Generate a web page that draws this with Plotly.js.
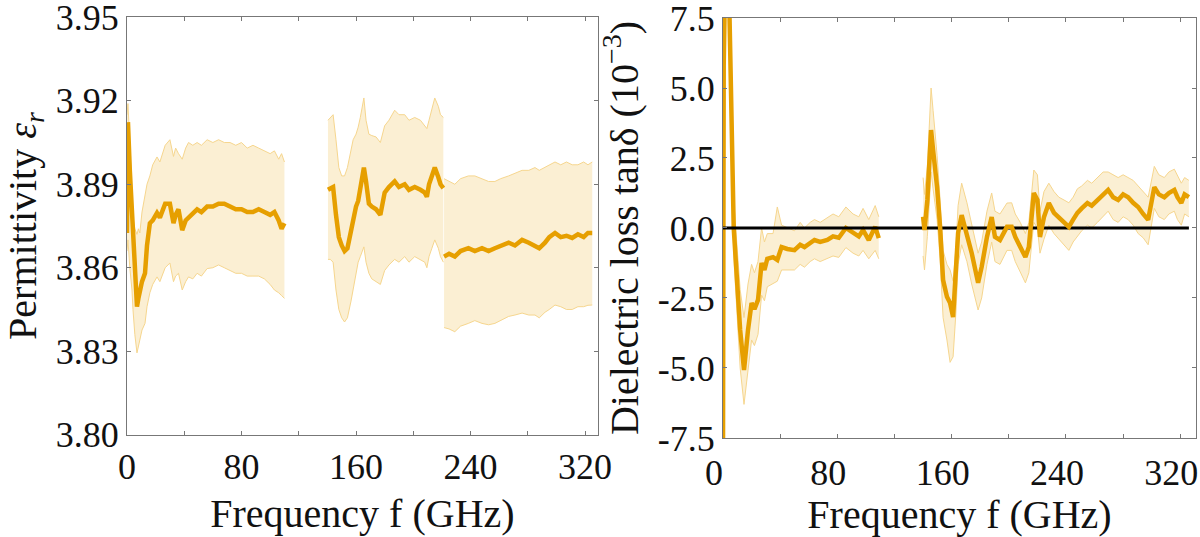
<!DOCTYPE html>
<html>
<head>
<meta charset="utf-8">
<script src="https://cdn.plot.ly/plotly-3.0.1.min.js"></script>
<style>html,body{margin:0;padding:0;background:#fff;}#chart{width:1200px;height:537px;}</style>
</head>
<body>
<div id="chart"></div>
<script>
// ---------- Permittivity (left panel) ----------
const epsX1 = [0, 0.7, 2, 3.5, 4.2, 5.5, 7, 8, 9, 10.5, 12.6, 14, 16, 18, 21, 23, 26.7, 30, 32.5, 34, 36, 38.6, 41, 43, 46, 49, 52, 56, 60, 64, 68, 72, 76, 80, 84, 88, 92, 96, 100, 103, 106, 108, 110];
const epsMean1 = [3.8725, 3.9123, 3.895, 3.882, 3.8725, 3.858, 3.846, 3.849, 3.852, 3.855, 3.858, 3.868, 3.876, 3.877, 3.8797, 3.878, 3.883, 3.883, 3.876, 3.879, 3.881, 3.8735, 3.877, 3.878, 3.880, 3.881, 3.880, 3.882, 3.882, 3.883, 3.883, 3.882, 3.881, 3.881, 3.880, 3.880, 3.881, 3.880, 3.879, 3.880, 3.877, 3.874, 3.876];
const epsUp1 = [3.915, 3.919, 3.905, 3.884, 3.878, 3.874, 3.872, 3.874, 3.8725, 3.880, 3.886, 3.890, 3.893, 3.897, 3.8998, 3.898, 3.904, 3.906, 3.900, 3.903, 3.901, 3.899, 3.903, 3.905, 3.904, 3.905, 3.904, 3.906, 3.905, 3.906, 3.905, 3.905, 3.904, 3.905, 3.903, 3.904, 3.903, 3.902, 3.901, 3.902, 3.899, 3.901, 3.898];
const epsLo1 = [3.866, 3.870, 3.860, 3.852, 3.845, 3.836, 3.8294, 3.832, 3.834, 3.8376, 3.840, 3.846, 3.851, 3.854, 3.8567, 3.855, 3.860, 3.8617, 3.855, 3.857, 3.858, 3.852, 3.855, 3.8567, 3.856, 3.858, 3.857, 3.8597, 3.860, 3.861, 3.860, 3.859, 3.858, 3.858, 3.857, 3.857, 3.857, 3.856, 3.854, 3.852, 3.851, 3.850, 3.849];

const epsX2 = [140.4, 142, 144, 146, 148, 150, 152, 154, 156.5, 158, 160, 161.5, 163, 165.5, 167, 169, 171, 174, 177, 180, 183, 187, 190, 194, 197, 201, 205, 208, 209.5, 211, 213, 215, 217.5, 219, 221];
const epsMean2 = [3.888, 3.8885, 3.889, 3.879, 3.871, 3.868, 3.866, 3.867, 3.873, 3.878, 3.882, 3.884, 3.889, 3.896, 3.891, 3.883, 3.882, 3.881, 3.879, 3.887, 3.889, 3.891, 3.889, 3.890, 3.888, 3.889, 3.888, 3.887, 3.8855, 3.890, 3.893, 3.896, 3.8925, 3.890, 3.8886];
const epsUp2 = [3.913, 3.914, 3.915, 3.906, 3.896, 3.893, 3.893, 3.896, 3.903, 3.906, 3.908, 3.9105, 3.914, 3.921, 3.913, 3.908, 3.9075, 3.907, 3.905, 3.911, 3.913, 3.9166, 3.915, 3.915, 3.913, 3.914, 3.913, 3.911, 3.910, 3.913, 3.917, 3.921, 3.918, 3.915, 3.914];
const epsLo2 = [3.863, 3.863, 3.862, 3.852, 3.845, 3.842, 3.8405, 3.842, 3.848, 3.852, 3.858, 3.862, 3.864, 3.8675, 3.862, 3.858, 3.856, 3.855, 3.854, 3.859, 3.861, 3.863, 3.862, 3.864, 3.862, 3.864, 3.863, 3.862, 3.860, 3.864, 3.867, 3.870, 3.867, 3.864, 3.862];

const epsX3 = [221.5, 225, 229, 233, 238.5, 243, 248, 252.6, 257, 261, 266.6, 271, 276, 280.7, 285, 288, 292, 295, 299, 303, 307, 311, 315, 319, 322, 325];
const epsMean3 = [3.864, 3.865, 3.864, 3.866, 3.867, 3.866, 3.867, 3.866, 3.867, 3.868, 3.869, 3.868, 3.870, 3.869, 3.868, 3.867, 3.869, 3.871, 3.8725, 3.871, 3.8715, 3.8707, 3.872, 3.871, 3.8725, 3.8725];
const epsUp3 = [3.892, 3.891, 3.890, 3.892, 3.893, 3.893, 3.892, 3.891, 3.891, 3.892, 3.893, 3.894, 3.895, 3.895, 3.896, 3.895, 3.896, 3.897, 3.898, 3.897, 3.898, 3.897, 3.897, 3.898, 3.897, 3.898];
const epsLo3 = [3.8385, 3.838, 3.837, 3.839, 3.840, 3.841, 3.840, 3.8395, 3.840, 3.841, 3.8425, 3.843, 3.8437, 3.843, 3.843, 3.842, 3.844, 3.845, 3.8466, 3.846, 3.845, 3.845, 3.846, 3.846, 3.8465, 3.8466];

// ---------- Dielectric loss (right panel), units of 1e-3 ----------
const tanX1 = [0, 0.5, 1.5, 4, 7.5, 10, 12, 14.7, 16, 17.5, 20, 22, 24.5, 27, 29, 31, 35, 38, 41, 45, 50, 54, 57, 61, 64, 68, 73, 77, 81, 86, 91, 95, 98, 102, 106.5, 109];
const tanMean1 = [-8, 5.8, 9, 9, 0, -2, -3.64, -5.07, -4.2, -3.64, -2.68, -2.9, -2.57, -1.25, -1.5, -1.1, -1.04, -1.14, -0.68, -0.75, -0.79, -0.6, -0.68, -0.55, -0.43, -0.5, -0.43, -0.3, -0.35, 0.0, -0.18, -0.3, -0.07, -0.43, 0.04, -0.36];
const tanUp1 = [-7, 6.6, 10, 10, 1.0, -0.6, -2.2, -3.2, -2.6, -2.0, -1.3, -1.6, -1.2, 0.0, -0.5, -0.2, -0.2, 0.75, 0.1, 0.0, -0.1, 0.2, 0.0, 0.2, 0.3, 0.2, 0.35, 0.5, 0.4, 0.75, 0.5, 0.4, 0.7, 0.3, 0.8, 0.4];
const tanLo1 = [-9, 5.0, 8, 8, -1.0, -3.4, -5.0, -6.3, -5.7, -5.1, -4.0, -4.2, -3.8, -2.4, -2.6, -2.1, -2.0, -1.9, -1.5, -1.5, -1.5, -1.3, -1.4, -1.2, -1.1, -1.2, -1.1, -1.0, -1.05, -0.7, -0.9, -1.0, -0.8, -1.1, -0.8, -1.1];

const tanX2 = [140, 141, 143, 145.6, 147, 149.8, 151.9, 154, 156.7, 158.9, 161, 163, 164.5, 167, 170.7, 174, 178.5, 181, 184.7, 188, 190.3, 193.8, 198.7, 202, 204.5, 208, 211.6, 214, 217.5, 220, 221.8, 224.6, 228, 231.6, 235, 238.6, 242, 245, 248, 251, 255, 258, 262, 266, 269.5, 273, 276.5, 280, 283.5, 287, 290.5, 294, 297.5, 301.8, 305, 308.8, 312, 315.8, 318, 320.7, 323, 326];
const tanMean2 = [0.4, -0.07, 1.0, 3.5, 2.79, 1.46, 0.04, -1.86, -2.46, -2.68, -3.18, -1.75, -0.18, 0.46, -0.18, -0.89, -1.96, -1.39, -0.32, 0.39, -0.32, -0.43, 0.04, 0.04, -0.32, -0.68, -1.04, -0.68, 1.25, 1.0, -0.32, 0.39, 0.89, 0.54, 0.39, 0.18, 0.04, 0.3, 0.54, 0.7, 0.89, 0.8, 1.0, 1.2, 1.36, 1.1, 1.0, 1.2, 1.1, 0.9, 0.75, 0.5, 0.29, 1.46, 1.2, 1.1, 1.25, 1.36, 1.1, 0.89, 1.2, 1.1];
const tanUp2 = [1.8, 1.2, 2.2, 5.0, 4.2, 2.6, 1.0, -0.8, -1.3, -1.5, -1.9, -0.7, 0.8, 1.6, 0.9, 0.1, -0.9, -0.5, 0.6, 1.25, 0.6, 0.5, 0.89, 0.9, 0.5, 0.2, -0.2, 0.2, 2.07, 1.9, 0.6, 1.3, 1.6, 1.3, 1.1, 1.0, 0.9, 1.1, 1.4, 1.5, 1.7, 1.6, 1.8, 2.0, 2.0, 1.9, 1.8, 1.9, 1.8, 1.7, 1.5, 1.3, 1.1, 2.2, 1.9, 1.8, 2.0, 2.1, 1.9, 1.6, 1.8, 1.7];
const tanLo2 = [-1.0, -1.5, -0.3, 2.0, 1.4, 0.3, -1.1, -3.2, -4.0, -4.8, -4.6, -3.0, -1.3, -0.6, -1.2, -2.0, -2.93, -2.5, -1.3, -0.5, -1.2, -1.3, -0.8, -0.8, -1.2, -1.6, -1.96, -1.6, 0.2, 0.0, -0.9, -0.4, 0.1, -0.2, -0.4, -0.6, -0.8, -0.5, -0.3, -0.1, 0.1, 0.0, 0.2, 0.4, 0.6, 0.3, 0.2, 0.4, 0.3, 0.1, -0.2, -0.35, -0.6, 0.7, 0.4, 0.3, 0.5, 0.6, 0.3, 0.1, 0.5, 0.4];

const zeroX = [0, 326];
const zeroY = [0, 0];

const xTickVals = [0, 80, 160, 240, 320];
const xTickText = ['0', '80', '160', '240', '320'];
const epsTickVals = [3.80, 3.83, 3.86, 3.89, 3.92, 3.95];
const epsTickText = ['3.80', '3.83', '3.86', '3.89', '3.92', '3.95'];
const tanTickVals = [-7.5, -5, -2.5, 0, 2.5, 5, 7.5];
const tanTickText = ['-7.5', '-5.0', '-2.5', '0.0', '2.5', '5.0', '7.5'];

// ---------- styling ----------
const MEAN = '#E69F00';
const EDGE = '#F6D68E';
const FILL = 'rgba(251,237,206,0.9)';
const FONT = "'Liberation Serif', 'Times New Roman', serif";

function band(x, lo, up, xa, ya) {
  return [
    {x: x, y: lo, xaxis: xa, yaxis: ya, mode: 'lines', line: {color: EDGE, width: 1}, hoverinfo: 'skip', showlegend: false},
    {x: x, y: up, xaxis: xa, yaxis: ya, mode: 'lines', line: {color: EDGE, width: 1}, fill: 'tonexty', fillcolor: FILL, hoverinfo: 'skip', showlegend: false}
  ];
}
function meanLine(x, y, xa, ya) {
  return {x: x, y: y, xaxis: xa, yaxis: ya, mode: 'lines', line: {color: MEAN, width: 4.5}, showlegend: false};
}

const traces = [].concat(
  band(epsX1, epsLo1, epsUp1, 'x', 'y'),
  band(epsX2, epsLo2, epsUp2, 'x', 'y'),
  band(epsX3, epsLo3, epsUp3, 'x', 'y'),
  [meanLine(epsX1, epsMean1, 'x', 'y'), meanLine(epsX2, epsMean2, 'x', 'y'), meanLine(epsX3, epsMean3, 'x', 'y')],
  band(tanX1, tanLo1, tanUp1, 'x2', 'y2'),
  band(tanX2, tanLo2, tanUp2, 'x2', 'y2'),
  [meanLine(tanX1, tanMean1, 'x2', 'y2')],
  [{x: zeroX, y: zeroY, xaxis: 'x2', yaxis: 'y2', mode: 'lines', line: {color: '#000', width: 3}, showlegend: false}],
  [meanLine(tanX2, tanMean2, 'x2', 'y2')]
);

const axCommon = {
  showline: true, linecolor: '#777', linewidth: 1, mirror: 'ticks',
  ticks: 'inside', ticklen: 4, tickcolor: '#777', tickwidth: 1,
  showgrid: false, zeroline: false, ticklabeloverflow: 'allow',
  tickfont: {family: FONT, size: 36, color: '#111'}
};
const minorX = {tick0: 0, dtick: 40, ticks: 'inside', ticklen: 4, tickcolor: '#777', tickwidth: 1, showgrid: false};
const titleFont = {family: FONT, size: 40, color: '#111'};

const layout = {
  width: 1200, height: 537,
  margin: {l: 0, r: 0, t: 0, b: 0},
  paper_bgcolor: '#fff', plot_bgcolor: '#fff',
  font: {family: FONT, color: '#111'},
  showlegend: false,
  xaxis: Object.assign({}, axCommon, {
    domain: [0.1058, 0.4983], range: [0, 329], anchor: 'y',
    tickmode: 'array', tickvals: xTickVals, ticktext: xTickText, minor: minorX,
    title: {text: 'Frequency f (GHz)', font: titleFont, standoff: 12}
  }),
  yaxis: Object.assign({}, axCommon, {
    domain: [0.19, 0.9683], range: [3.7999, 3.9501], anchor: 'x',
    tickmode: 'array', tickvals: epsTickVals, ticktext: epsTickText,
    title: {text: 'Permittivity <i>ε<sub>r</sub></i>', font: titleFont, standoff: 17}
  }),
  xaxis2: Object.assign({}, axCommon, {
    domain: [0.6025, 0.9967], range: [0, 331], anchor: 'y2',
    tickmode: 'array', tickvals: xTickVals, ticktext: xTickText, minor: minorX,
    ticklabelshift: -9, ticklabelstandoff: 3,
    title: {text: 'Frequency f (GHz)', font: titleFont, standoff: 12}
  }),
  yaxis2: Object.assign({}, axCommon, {
    domain: [0.1844, 0.9665], range: [-7.501, 7.501], anchor: 'x2',
    tickmode: 'array', tickvals: tanTickVals, ticktext: tanTickText,
    title: {text: 'Dielectric loss tanδ (10<sup>−3</sup>)', font: titleFont, standoff: 6}
  })
};

Plotly.newPlot('chart', traces, layout, {staticPlot: true, displayModeBar: false});
</script>
</body>
</html>
